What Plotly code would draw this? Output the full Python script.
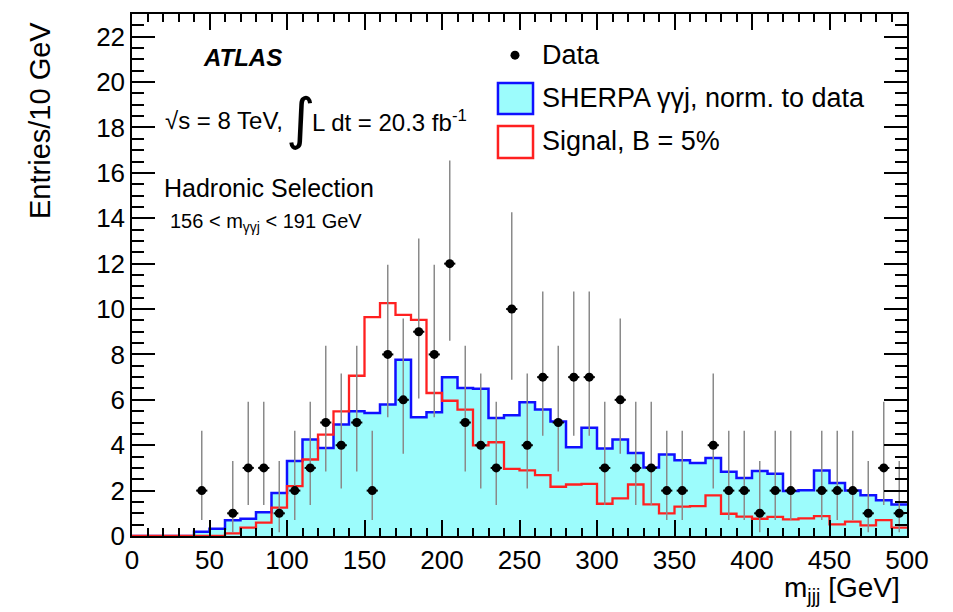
import plotly.graph_objects as go

# ---------------- data ----------------
bin_width = 10
n_bins = 50
bin_edges = [i * bin_width for i in range(n_bins + 1)]
bin_centers = [e + bin_width / 2 for e in bin_edges[:-1]]

data_counts = [0, 0, 0, 0, 2, 0, 1, 3, 3, 1,
               2, 3, 5, 4, 5, 2, 8, 6, 9, 8,
               12, 5, 4, 3, 10, 4, 7, 5, 7, 7,
               3, 6, 3, 3, 2, 2, 0, 4, 2, 2,
               1, 2, 2, 0, 2, 2, 2, 1, 3, 1]

data_err_up = [0, 0, 0, 0, 2.64, 0, 2.30, 2.92, 2.92, 2.30,
               2.64, 2.92, 3.38, 3.16, 3.38, 2.64, 3.95, 3.58, 4.11, 3.95,
               4.55, 3.38, 3.16, 2.92, 4.27, 3.16, 3.77, 3.38, 3.77, 3.77,
               2.92, 3.58, 2.92, 2.92, 2.64, 2.64, 0, 3.16, 2.64, 2.64,
               2.30, 2.64, 2.64, 0, 2.64, 2.64, 2.64, 2.30, 2.92, 2.30]

data_err_down = [0, 0, 0, 0, 1.29, 0, 0.83, 1.63, 1.63, 0.83,
                 1.29, 1.63, 2.16, 1.91, 2.16, 1.29, 2.77, 2.38, 2.94, 2.77,
                 3.40, 2.16, 1.91, 1.63, 3.11, 1.91, 2.58, 2.16, 2.58, 2.58,
                 1.63, 2.38, 1.63, 1.63, 1.29, 1.29, 0, 1.91, 1.29, 1.29,
                 0.83, 1.29, 1.29, 0, 1.29, 1.29, 1.29, 0.83, 1.63, 0.83]

sherpa = [0, 0, 0, 0, 0.19, 0.32, 0.69, 0.76, 1.05, 1.90,
          3.30, 4.25, 3.88, 4.91, 5.50, 5.42, 5.79, 7.77, 5.23, 5.45,
          7.00, 6.52, 6.49, 5.20, 5.32, 5.89, 5.57, 5.05, 3.91, 4.77,
          3.85, 4.25, 3.66, 3.02, 3.59, 3.34, 3.22, 3.44, 2.83, 2.56,
          2.86, 2.74, 1.98, 2.02, 2.89, 2.34, 2.01, 1.79, 1.57, 1.39]

signal = [0, 0, 0, 0, 0, 0, 0.12, 0.37, 0.59, 1.25,
          2.20, 3.37, 4.47, 5.49, 7.06, 9.64, 10.26, 9.74, 9.52, 6.30,
          5.96, 5.57, 3.99, 4.13, 2.96, 2.89, 2.68, 2.17, 2.27, 2.30,
          1.42, 1.66, 2.27, 1.39, 1.00, 1.29, 1.32, 1.79, 0.98, 0.85,
          0.76, 0.84, 0.73, 0.78, 0.88, 0.51, 0.63, 0.47, 0.70, 0.37]

x_range = [0, 500]
y_range = [0, 23]

FONT = "Liberation Sans, Arial, Helvetica, sans-serif"
CYAN = "#9cfcfc"
BLUE = "#1010ff"
RED = "#ff2020"

fig = go.Figure()

# SHERPA filled histogram
fig.add_trace(go.Scatter(
    x=bin_edges, y=sherpa + [sherpa[-1]], mode="lines", line_shape="hv",
    line=dict(color=BLUE, width=2.5), fill="tozeroy", fillcolor=CYAN,
    showlegend=False, hoverinfo="skip"))

# Signal histogram
fig.add_trace(go.Scatter(
    x=bin_edges, y=signal + [signal[-1]], mode="lines", line_shape="hv",
    line=dict(color=RED, width=2.3), showlegend=False, hoverinfo="skip"))

# Data points
dx, dy, eu, ed = [], [], [], []
for c, n, u, d in zip(bin_centers, data_counts, data_err_up, data_err_down):
    if n > 0:
        dx.append(c); dy.append(n); eu.append(u); ed.append(d)
fig.add_trace(go.Scatter(
    x=dx, y=dy, mode="markers",
    marker=dict(color="black", size=9),
    error_y=dict(type="data", array=eu, arrayminus=ed, symmetric=False,
                 color="#8a8a8a", thickness=1.5, width=0),
    error_x=dict(type="constant", value=3.6, color="black", thickness=2, width=0),
    showlegend=False))

# ---------------- layout ----------------
axis_common = dict(
    showline=True, linecolor="black", linewidth=1.5, mirror="allticks",
    ticks="inside", tickcolor="black", tickwidth=1.5, showgrid=False,
    zeroline=False, tickfont=dict(family=FONT, size=26, color="black"))

fig.update_layout(
    width=953, height=612,
    margin=dict(l=132, r=46, t=12, b=76),
    paper_bgcolor="white", plot_bgcolor="white",
    font=dict(family=FONT, color="black"),
    xaxis=dict(range=x_range, dtick=50, tick0=0, ticklen=16,
               minor=dict(dtick=10, ticklen=8, ticks="inside", tickcolor="black", tickwidth=1.5),
               **axis_common),
    yaxis=dict(range=y_range, dtick=2, tick0=0, ticklen=23,
               minor=dict(dtick=0.5, ticklen=12, ticks="inside", tickcolor="black", tickwidth=1.5),
               **axis_common),
)

def px2x(px):
    return (px - 132.5) / 1.548

def px2y(py):
    return (535 - py) / 22.75

annotations = [
    dict(x=px2x(201), y=px2y(55), text="<b><i>ATLAS</i></b>", font=dict(size=24)),
    dict(x=px2x(163), y=px2y(119), text="√s = 8 TeV,", font=dict(size=24)),
    dict(x=px2x(284), y=px2y(116), text="∫", font=dict(size=56, family="DejaVu Sans")),
    dict(x=px2x(310), y=px2y(119), text="L dt = 20.3 fb<sup>-1</sup>", font=dict(size=24)),
    dict(x=px2x(162), y=px2y(186), text="Hadronic Selection", font=dict(size=25)),
    dict(x=px2x(168), y=px2y(221), text="156 < m<sub>γγj</sub> < 191 GeV", font=dict(size=20)),
    dict(x=px2x(540), y=px2y(53), text="Data", font=dict(size=27)),
    dict(x=px2x(540), y=px2y(96), text="SHERPA γγj, norm. to data", font=dict(size=27)),
    dict(x=px2x(540), y=px2y(139), text="Signal, B = 5%", font=dict(size=27)),
]
for a in annotations:
    fig.add_annotation(xref="x", yref="y", xanchor="left", yanchor="middle",
                       showarrow=False, **a)

# axis titles
fig.add_annotation(xref="paper", yref="paper", x=(41 - 132.5) / 775, y=(536 - 18) / 524,
                   xanchor="center", yanchor="top", textangle=-90, showarrow=False,
                   text="Entries/10 GeV", font=dict(size=29))
fig.add_annotation(xref="paper", yref="paper", x=(902 - 132.5) / 775, y=(536 - 590) / 524,
                   xanchor="right", yanchor="middle", showarrow=False,
                   text="m<sub>jjj</sub> [GeV]", font=dict(size=28))

# legend swatches
fig.add_shape(type="circle", xref="x", yref="y",
              x0=px2x(510.5), x1=px2x(519.5), y0=px2y(57.5), y1=px2y(48.5),
              fillcolor="black", line=dict(color="black", width=0))
fig.add_shape(type="rect", xref="x", yref="y",
              x0=px2x(498), x1=px2x(533), y0=px2y(112), y1=px2y(81),
              fillcolor=CYAN, line=dict(color=BLUE, width=2.5))
fig.add_shape(type="rect", xref="x", yref="y",
              x0=px2x(498), x1=px2x(533), y0=px2y(156), y1=px2y(124),
              fillcolor="white", line=dict(color=RED, width=2.5))

fig.write_html("out.html")
